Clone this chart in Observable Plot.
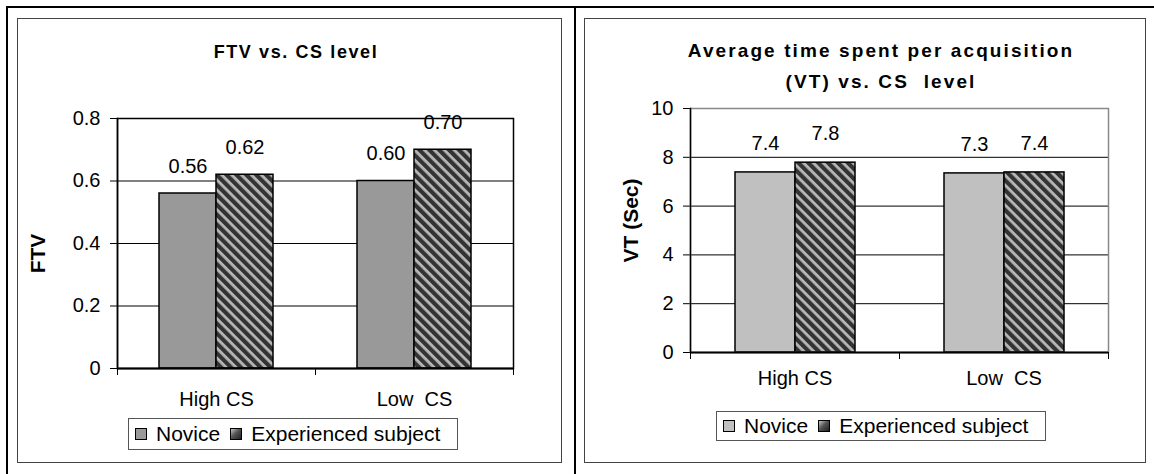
<!DOCTYPE html>
<html>
<head>
<meta charset="utf-8">
<script src="https://cdn.jsdelivr.net/npm/d3@7"></script>
<script src="https://cdn.jsdelivr.net/npm/@observablehq/plot@0.6"></script>
<style>
  html, body { margin: 0; padding: 0; background: #fff; }
  body { font-family: "Liberation Sans", Arial, sans-serif; color: #000; }
  #page { position: relative; width: 1154px; height: 474px; overflow: hidden; background: #fff; }
  .line { position: absolute; background: #000; }
  .panel { position: absolute; box-sizing: border-box; border: 1px solid #444; }
  .title { position: absolute; text-align: center; font-weight: bold; font-size: 19px; letter-spacing: 2.1px; white-space: pre; }
  .chart { position: absolute; }
  .chart svg text { white-space: pre; }
  .legend { position: absolute; box-sizing: border-box; border: 1px solid #555; display: flex; align-items: center; padding-left: 6px; font-size: 21px; white-space: pre; background: #fff; }
  .sw { width: 12px; height: 12px; box-sizing: border-box; border: 1px solid #000; display: inline-block; }
</style>
</head>
<body>
<div id="page">
  <div class="line" style="left:6px;top:6px;width:1148px;height:2px"></div>
  <div class="line" style="left:6px;top:6px;width:2px;height:468px"></div>
  <div class="line" style="left:574px;top:6px;width:2px;height:468px"></div>

  <div class="panel" style="left:17px;top:18px;width:545px;height:445px"></div>
  <div class="panel" style="left:584px;top:18px;width:562px;height:445px"></div>

  <div class="title" id="t1" style="left:96px;top:41px;width:400px;line-height:22px;font-size:18px;letter-spacing:1.6px"></div>
  <div class="title" id="t2" style="left:681px;top:35px;width:400px;line-height:31px"></div>

  <div class="chart" id="c1" style="left:17px;top:88px"></div>
  <div class="chart" id="c2" style="left:584px;top:80px"></div>

  <div class="legend" id="l1" style="left:128px;top:418px;width:330px;height:32px"></div>
  <div class="legend" id="l2" style="left:716px;top:411px;width:330px;height:30px"></div>
</div>
<script>
// ---- data ----
const categories = ["High CS", "Low  CS"];
const series = ["Novice", "Experienced subject"];

const ftvNovice = [0.56, 0.60];
const ftvExperienced = [0.62, 0.70];
const ftvTicks = [0, 0.2, 0.4, 0.6, 0.8];

const vtNovice = [7.38, 7.34];
const vtExperienced = [7.78, 7.38];
const vtTicks = [0, 2, 4, 6, 8, 10];

const ftvTitle = "FTV vs. CS level";
const vtTitle = "Average time spent per acquisition\n(VT) vs. CS  level";
const ftvLabel = "FTV";
const vtLabel = "VT (Sec)";

function rows(nov, exp) {
  const out = [];
  categories.forEach((c, i) => {
    out.push({cat: c, series: series[0], value: nov[i]});
    out.push({cat: c, series: series[1], value: exp[i]});
  });
  return out;
}

function addHatch(svg, id) {
  const defs = d3.select(svg).insert("defs", ":first-child");
  const p = defs.append("pattern")
    .attr("id", id)
    .attr("patternUnits", "userSpaceOnUse")
    .attr("width", 10).attr("height", 7)
    .attr("patternTransform", "rotate(45)");
  p.append("rect").attr("width", 10).attr("height", 7).attr("fill", "#333");
  p.append("rect").attr("y", 0).attr("width", 10).attr("height", 2.8).attr("fill", "#b8b8b8");
}

function makeChart(cfg) {
  const data = rows(cfg.nov, cfg.exp);
  const plotH = cfg.height - cfg.marginTop - cfg.marginBottom;
  const gridVals = cfg.ticks.slice(1, -1);
  const svg = Plot.plot({
    width: cfg.width,
    height: cfg.height,
    marginLeft: cfg.marginLeft,
    marginRight: cfg.marginRight,
    marginTop: cfg.marginTop,
    marginBottom: cfg.marginBottom,
    style: {fontFamily: "'Liberation Sans', Arial, sans-serif", fontSize: "20px", background: "transparent", color: "#000", overflow: "visible"},
    fx: {domain: categories, padding: 0, axis: "bottom", tickSize: 0, tickPadding: cfg.catPad, label: null},
    x: {domain: series, paddingInner: 0, paddingOuter: cfg.xPad, axis: null},
    y: {domain: [cfg.ticks[0], cfg.ticks[cfg.ticks.length - 1]], ticks: cfg.ticks, tickSize: 7, tickPadding: 10, tickFormat: d => String(d), label: null},
    color: {domain: series, range: [cfg.novFill, `url(#${cfg.hatchId})`]},
    marks: [
      Plot.ruleY(gridVals, {stroke: "#000", strokeWidth: 1}),
      Plot.barY(data, {fx: "cat", x: "series", y: "value", fill: "series", stroke: "#000", strokeWidth: 1.5}),
      Plot.text(data, {fx: "cat", x: "series", y: "value", text: d => cfg.fmt(d.value), dy: cfg.labelDy, fontSize: 20, fill: "#000"}),
      Plot.frame({facet: "super", stroke: cfg.frameStroke, strokeWidth: 1.5}),
      Plot.frame({facet: "super", anchor: "left", stroke: "#000", strokeWidth: 1.5}),
      Plot.ruleY([cfg.ticks[0]], {stroke: "#000", strokeWidth: 2}),
      Plot.frame({anchor: "left", insetTop: plotH, insetBottom: -6, stroke: "#000"}),
      Plot.frame({facet: "super", anchor: "right", insetTop: plotH, insetBottom: -6, stroke: "#000"}),
      Plot.text([cfg.yLabel], {facet: "super", frameAnchor: "left", textAnchor: "middle", rotate: -90, dx: cfg.yLabelDx, dy: cfg.yLabelDy, fontWeight: "bold", fontSize: 21, fill: "#000"})
    ]
  });
  addHatch(svg, cfg.hatchId);
  return svg;
}

function makeLegend(el, novFill) {
  el.innerHTML = "";
  const s1 = document.createElement("span"); s1.className = "sw"; s1.style.background = novFill; s1.style.marginRight = "9px";
  const t1 = document.createElement("span"); t1.textContent = series[0]; t1.style.marginRight = "10px";
  const s2 = document.createElement("span"); s2.className = "sw"; s2.style.background = "linear-gradient(135deg, #c8c8c8 0%, #555 45%, #222 100%)"; s2.style.marginRight = "9px";
  const t2 = document.createElement("span"); t2.textContent = series[1];
  el.append(s1, t1, s2, t2);
}

document.getElementById("t1").textContent = ftvTitle;
document.getElementById("t2").textContent = vtTitle;

document.getElementById("c1").append(makeChart({
  nov: ftvNovice, exp: ftvExperienced, ticks: ftvTicks,
  width: 544, height: 330, marginLeft: 99, marginRight: 48, marginTop: 30, marginBottom: 50,
  catPad: 23, xPad: 0.71, novFill: "#999999", hatchId: "hatchA", fmt: d3.format(".2f"),
  labelDy: -27, frameStroke: "#000", yLabel: ftvLabel, yLabelDx: -79, yLabelDy: 10
}));

document.getElementById("c2").append(makeChart({
  nov: vtNovice, exp: vtExperienced, ticks: vtTicks,
  width: 561, height: 328, marginLeft: 106, marginRight: 37, marginTop: 28, marginBottom: 56,
  catPad: 18, xPad: 0.74, novFill: "#c0c0c0", hatchId: "hatchB", fmt: d3.format(".1f"),
  labelDy: -29, frameStroke: "#888", yLabel: vtLabel, yLabelDx: -59, yLabelDy: -10
}));

makeLegend(document.getElementById("l1"), "#999999");
makeLegend(document.getElementById("l2"), "#c0c0c0");
</script>
</body>
</html>
